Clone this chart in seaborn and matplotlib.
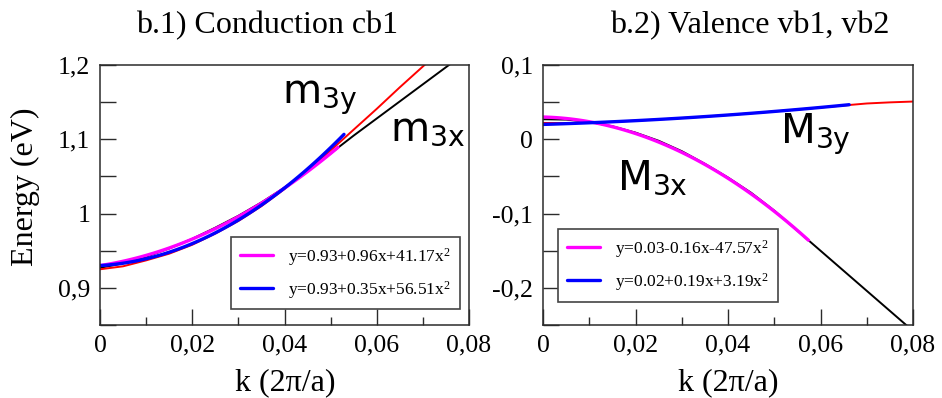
import matplotlib
matplotlib.use("Agg")
import numpy as np
import matplotlib.pyplot as plt
from matplotlib.ticker import MultipleLocator, FuncFormatter
import seaborn as sns

# ---------------- data ----------------
# wave vector grid, k in units of 2*pi/a
k = [0.000, 0.005, 0.010, 0.015, 0.020, 0.025, 0.030, 0.035, 0.040,
     0.045, 0.050, 0.055, 0.060, 0.065, 0.070, 0.075, 0.080]

# conduction band cb1 (eV)
cb1_x = [0.927, 0.933, 0.942, 0.953, 0.966, 0.981, 0.997, 1.015, 1.035,
         1.057, 1.081, 1.105, 1.128, 1.151, 1.174, 1.197, 1.220]
cb1_y = [0.925, 0.929, 0.937, 0.946, 0.958, 0.973, 0.990, 1.010, 1.033,
         1.058, 1.085, 1.113, 1.141, 1.170, 1.198, 1.226, 1.254]

# valence bands vb1, vb2 (eV)
vb_x = [0.027, 0.0265, 0.0235, 0.0175, 0.009, -0.002, -0.016, -0.033, -0.0515,
        -0.072, -0.096, -0.123, -0.150, -0.177, -0.204, -0.231, -0.258]
vb_y = [0.022, 0.0218, 0.0222, 0.0235, 0.0251, 0.0267, 0.0286, 0.0305, 0.0327,
        0.0350, 0.0375, 0.0400, 0.0428, 0.0455, 0.0482, 0.0497, 0.0508]

# parabolic fits y = c0 + c1*x + c2*x^2, and the k range each fit covers
cb_fit_x = [0.93, 0.96, 41.17]
cb_fit_y = [0.93, 0.35, 56.51]
vb_fit_x = [0.03, -0.16, -47.57]
vb_fit_y = [0.02, 0.19, 3.19]
cb_fit_x_kmax = 0.0516
cb_fit_y_kmax = 0.0529
vb_fit_x_kmax = 0.0574
vb_fit_y_kmax = 0.0662

titles = ["b.1) Conduction cb1", "b.2) Valence vb1, vb2"]
cb_labels = [r"y=0.93+0.96x+41.17x$^{2}$", r"y=0.93+0.35x+56.51x$^{2}$"]
vb_labels = [r"y=0.03-0.16x-47.57x$^{2}$", r"y=0.02+0.19x+3.19x$^{2}$"]

# ---------------- style ----------------
sns.set_theme(style="ticks")
plt.rcParams["font.family"] = ["Liberation Serif", "DejaVu Serif"]
plt.rcParams["mathtext.fontset"] = "custom"
plt.rcParams["mathtext.rm"] = "Liberation Serif"
plt.rcParams["mathtext.it"] = "Liberation Serif:italic"
plt.rcParams["mathtext.sf"] = "DejaVu Sans"
plt.rcParams["axes.unicode_minus"] = False
for key in ("text.color", "axes.labelcolor", "xtick.labelcolor", "ytick.labelcolor"):
    plt.rcParams[key] = "black"

SPINE = "#2b2b2b"
W, H = 942, 398

fig = plt.figure(figsize=(W / 100, H / 100), dpi=100)
axL = fig.add_axes([100 / W, 73 / H, 369 / W, 260 / H])
axR = fig.add_axes([543 / W, 73 / H, 370 / W, 260 / H])


def parabola(c, kmax):
    kk = np.linspace(0, kmax, 60)
    return kk, c[0] + c[1] * kk + c[2] * kk ** 2


def comma(v, pos):
    v = round(v, 6)
    if v == 0:
        return "0"
    return f"{v:g}".replace(".", ",")


def style_axis(ax, ylim, ymajor):
    ax.set_xlim(0, 0.08)
    ax.set_ylim(*ylim)
    ax.xaxis.set_major_locator(MultipleLocator(0.02))
    ax.xaxis.set_minor_locator(MultipleLocator(0.01))
    ax.yaxis.set_major_locator(MultipleLocator(ymajor))
    ax.yaxis.set_minor_locator(MultipleLocator(ymajor / 2))
    ax.xaxis.set_major_formatter(FuncFormatter(comma))
    ax.yaxis.set_major_formatter(FuncFormatter(comma))
    ax.tick_params(axis="both", which="both", direction="in", color=SPINE,
                   labelcolor="black", width=1.0, labelsize=18.5,
                   top=False, right=False)
    ax.tick_params(axis="x", which="major", length=11.5, pad=7)
    ax.tick_params(axis="x", which="minor", length=5.8)
    ax.tick_params(axis="y", which="both", length=11.5, pad=7)
    for s in ax.spines.values():
        s.set_visible(True)
        s.set_color(SPINE)
        s.set_linewidth(1.1)
    ax.set_xlabel("")
    ax.set_ylabel("")


def draw_panel(ax, xs, ys, fit_a, kmax_a, fit_b, kmax_b, labels):
    sns.lineplot(x=k, y=xs, ax=ax, color="black", linewidth=1.4, legend=False)
    sns.lineplot(x=k, y=ys, ax=ax, color="#ff0000", linewidth=1.4, legend=False)
    fx, fy = parabola(fit_a, kmax_a)
    sns.lineplot(x=fx, y=fy, ax=ax, color="#ff00ff", linewidth=2.4, label=labels[0])
    fx, fy = parabola(fit_b, kmax_b)
    sns.lineplot(x=fx, y=fy, ax=ax, color="#0000ff", linewidth=2.4, label=labels[1])


draw_panel(axL, cb1_x, cb1_y, cb_fit_x, cb_fit_x_kmax, cb_fit_y, cb_fit_y_kmax, cb_labels)
draw_panel(axR, vb_x, vb_y, vb_fit_x, vb_fit_x_kmax, vb_fit_y, vb_fit_y_kmax, vb_labels)

style_axis(axL, (0.85, 1.2), 0.1)
style_axis(axR, (-0.25, 0.1), 0.1)

for ax, anchor in ((axL, (0.355, 0.3385)), (axR, (0.0405, 0.369))):
    leg = ax.legend(loc="upper left", bbox_to_anchor=anchor, borderaxespad=0,
                    frameon=True, fancybox=False, framealpha=1, edgecolor="#444444",
                    prop={"family": "Liberation Serif", "size": 12.5},
                    handlelength=1.9, handletextpad=0.9, borderpad=0.5,
                    labelspacing=0.65)
    leg.get_frame().set_linewidth(1.2)
    for t in leg.get_texts():
        t.set_color("black")

# band labels
ann = dict(fontsize=29, family="DejaVu Sans", ha="left", va="baseline", color="black")
axL.text(0.0395, 1.1486, r"m$_{\mathsf{3y}}$", **ann)
axL.text(0.0629, 1.0986, r"m$_{\mathsf{3x}}$", **ann)
axR.text(0.016, -0.0683, r"M$_{\mathsf{3x}}$", **ann)
axR.text(0.0512, -0.005, r"M$_{\mathsf{3y}}$", **ann)

# titles and axis labels
txt = dict(fontsize=23, color="black")
fig.text(136 / W, 1 - 33 / H, titles[0], ha="left", va="baseline", **txt)
fig.text(610 / W, 1 - 33 / H, titles[1], ha="left", va="baseline", **txt)
fig.text(25 / W, 1 - 187 / H, "Energy (eV)", rotation=90,
         ha="center", va="center", **txt)
fig.text(285 / W, 1 - 390 / H, "k (2\u03c0/a)", ha="center", va="baseline", **txt)
fig.text(728 / W, 1 - 390 / H, "k (2\u03c0/a)", ha="center", va="baseline", **txt)

fig.savefig("out.png", dpi=100)
